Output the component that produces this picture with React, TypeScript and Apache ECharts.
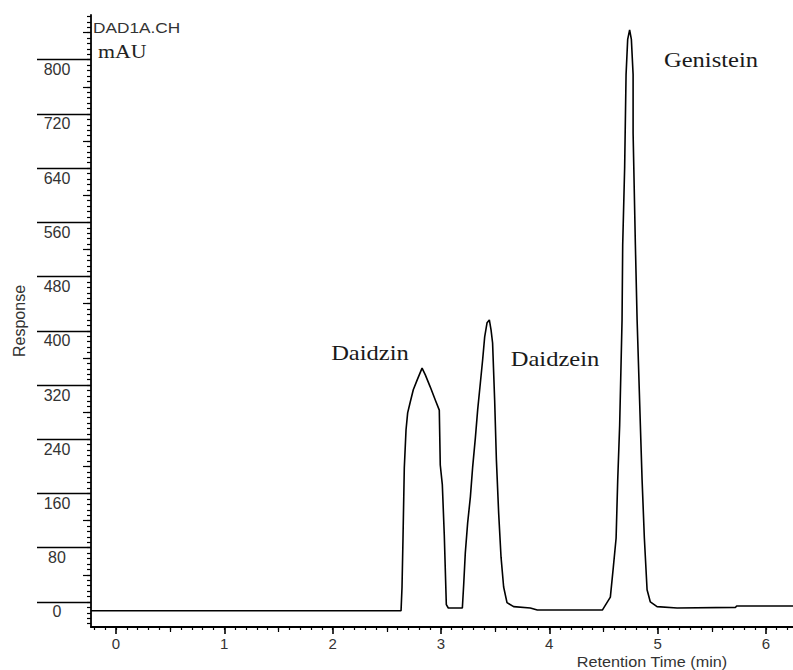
import React, { useEffect, useRef } from "react";
import * as echarts from "echarts";

// Chromatogram trace (retention time in min, response in mAU)
const retentionTime = [
  -0.23, 2.632, 2.641, 2.65, 2.662, 2.678, 2.693, 2.717, 2.745, 2.782, 2.826, 2.856, 2.902, 2.948, 2.985,
  2.994, 3.013, 3.031, 3.05, 3.068, 3.198, 3.21, 3.225, 3.247, 3.272, 3.293, 3.318, 3.339, 3.364, 3.385,
  3.404, 3.426, 3.447, 3.463, 3.477, 3.496, 3.512, 3.533, 3.555, 3.579, 3.61, 3.671, 3.825, 3.89, 4.472,
  4.49, 4.564, 4.592, 4.617, 4.632, 4.65, 4.672, 4.678, 4.696, 4.709, 4.724, 4.742, 4.758, 4.774, 4.774,
  4.795, 4.811, 4.841, 4.857, 4.878, 4.903, 4.933, 4.995, 5.18, 5.72, 5.73, 6.25,
];
const responseMAU = [
  -13, -13, 22, 94, 198, 254, 279, 295, 313, 328, 345, 335, 317, 298, 283,
  202, 173, 99, -4, -9, -9, 25, 72, 117, 155, 199, 242, 283, 323, 357,
  391, 412, 416, 401, 382, 298, 210, 131, 66, 22, -1, -7, -9, -12, -12,
  -12, 7, 52, 94, 180, 261, 416, 527, 641, 778, 830, 844, 830, 778, 692,
  527, 416, 261, 180, 94, 18, 0, -7, -9, -8, -6, -6,
];

// Axis tick labels
const xTickLabels = [0, 1, 2, 3, 4, 5, 6];
const yTickLabels = [0, 80, 160, 240, 320, 400, 480, 560, 640, 720, 800];
const xMediumTicks = [0.5, 1.5, 2.5, 3.5, 4.5, 5.5];
const yMediumTicks = [40, 120, 200, 280, 360, 440, 520, 600, 680, 760, 840];

// Peak annotations
const peakNames = ["Daidzin", "Daidzein", "Genistein"];

const X_MIN = -0.23;
const X_MAX = 6.25;
const Y_MIN = -37;
const Y_MAX = 866;

const xMinorTicks: number[] = [];
for (let i = -2; i <= 62; i++) xMinorTicks.push(i / 10);
const yMinorTicks: number[] = [];
for (let i = -4; i <= 108; i++) yMinorTicks.push(i * 8);

const SANS = "'Liberation Sans', Arial, sans-serif";
const SERIF = "'Liberation Serif', 'Times New Roman', serif";

function tickAxis(kind: "x" | "y", values: number[], length: number) {
  return {
    type: "value",
    min: kind === "x" ? X_MIN : Y_MIN,
    max: kind === "x" ? X_MAX : Y_MAX,
    position: kind === "x" ? "bottom" : "left",
    axisLine: { show: false, onZero: false },
    splitLine: { show: false },
    axisTick: { show: true, customValues: values, length, lineStyle: { color: "#000", width: 1.2 } },
    axisLabel: { show: false },
  };
}

export default function App() {
  const ref = useRef<HTMLDivElement>(null);
  useEffect(() => {
    if (!ref.current) return;
    const chart = echarts.init(ref.current, null, { renderer: "svg" });
    const data = retentionTime.map((t, i) => [t, responseMAU[i]]);
    const option: any = {
      animation: false,
      backgroundColor: "#fff",
      grid: { left: 91, right: 0, top: 15, bottom: 43, containLabel: false, outerBoundsMode: "none" },
      xAxis: [
        {
          type: "value",
          min: X_MIN,
          max: X_MAX,
          position: "bottom",
          axisLine: { show: true, onZero: false, lineStyle: { color: "#000", width: 1.8 } },
          splitLine: { show: false },
          axisTick: { show: true, customValues: xTickLabels, length: 7, lineStyle: { color: "#000", width: 1.6 } },
          axisLabel: {
            show: true,
            customValues: xTickLabels,
            margin: 9,
            fontSize: 15,
            fontFamily: SANS,
            color: "#333",
          },
        },
        tickAxis("x", xMediumTicks, 5),
        tickAxis("x", xMinorTicks, 3),
      ],
      yAxis: [
        {
          type: "value",
          min: Y_MIN,
          max: Y_MAX,
          position: "left",
          axisLine: { show: true, onZero: false, lineStyle: { color: "#000", width: 1.8 } },
          splitLine: { show: false },
          axisTick: { show: true, customValues: yTickLabels, length: 54, lineStyle: { color: "#000", width: 1.4 } },
          axisLabel: {
            show: true,
            customValues: yTickLabels,
            margin: 34,
            align: "center",
            verticalAlign: "top",
            padding: [2, 0, 0, 0],
            fontSize: 16,
            fontFamily: SANS,
            color: "#333",
          },
        },
        tickAxis("y", yMediumTicks, 8),
        tickAxis("y", yMinorTicks, 4),
      ],
      series: [
        {
          type: "line",
          xAxisIndex: 0,
          yAxisIndex: 0,
          data,
          showSymbol: false,
          symbol: "none",
          lineStyle: { color: "#000", width: 1.6 },
          silent: true,
        },
      ],
      graphic: [
        {
          type: "text",
          x: 93,
          y: 27,
          scaleX: 1.15,
          style: { text: "DAD1A.CH", font: `15px ${SANS}`, fill: "#333", verticalAlign: "middle", align: "left" },
        },
        {
          type: "text",
          x: 98,
          y: 52,
          scaleX: 1.15,
          style: { text: "mAU", font: `19px ${SERIF}`, fill: "#222", verticalAlign: "middle", align: "left" },
        },
        {
          type: "text",
          x: 19,
          y: 321,
          rotation: Math.PI / 2,
          style: { text: "Response", font: `16px ${SANS}`, fill: "#333", verticalAlign: "middle", align: "center" },
        },
        {
          type: "text",
          x: 652,
          y: 662,
          scaleX: 1.08,
          style: { text: "Retention Time (min)", font: `15px ${SANS}`, fill: "#333", verticalAlign: "middle", align: "center" },
        },
        {
          type: "text",
          x: 370,
          y: 353,
          scaleX: 1.17,
          style: { text: peakNames[0], font: `21px ${SERIF}`, fill: "#1a1a1a", verticalAlign: "middle", align: "center" },
        },
        {
          type: "text",
          x: 555,
          y: 359,
          scaleX: 1.17,
          style: { text: peakNames[1], font: `21px ${SERIF}`, fill: "#1a1a1a", verticalAlign: "middle", align: "center" },
        },
        {
          type: "text",
          x: 711,
          y: 60,
          scaleX: 1.17,
          style: { text: peakNames[2], font: `21px ${SERIF}`, fill: "#1a1a1a", verticalAlign: "middle", align: "center" },
        },
      ],
    };
    chart.setOption(option);
    return () => chart.dispose();
  }, []);
  return (
    <div
      ref={ref}
      style={{ position: "fixed", left: 0, top: 0, width: 793, height: 670, background: "#fff" }}
    />
  );
}
